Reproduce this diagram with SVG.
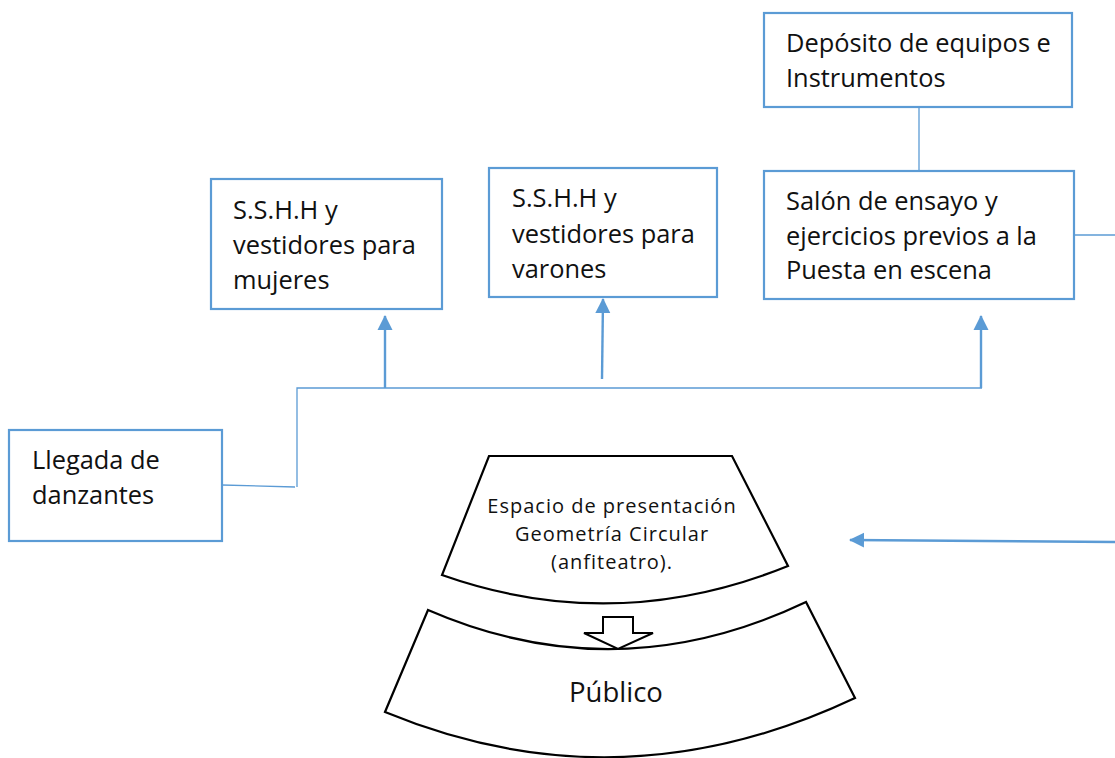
<svg xmlns="http://www.w3.org/2000/svg" width="1115" height="758" viewBox="0 0 1115 758">
<style>
.box{fill:#fff;stroke:#5B9BD5;stroke-width:2.2}
.t{font-family:"Open Sans","Liberation Sans",sans-serif;font-size:25.4px;fill:#111}
.ts{font-family:"Open Sans","Liberation Sans",sans-serif;font-size:20px;letter-spacing:1px;fill:#111}
.tp{font-family:"Open Sans","Liberation Sans",sans-serif;font-size:27.5px;fill:#111}
.thin{fill:none;stroke:#5B9BD5;stroke-width:1.3}
.arr{fill:none;stroke:#5B9BD5;stroke-width:2.4}
.shape{fill:#fff;stroke:#000;stroke-width:2.2}
</style>
<defs>
<marker id="ah" markerWidth="16" markerHeight="16" viewBox="0 0 16 16" refX="14" refY="8" orient="auto" markerUnits="userSpaceOnUse">
<path d="M0,0.5 L15,8 L0,15.5 Z" fill="#5B9BD5"/>
</marker>
</defs>
<g id="connectors">
<path class="thin" d="M222,485 L295,487"/>
<path class="thin" d="M297,487 L297,388 L982,388"/>
<path class="arr" d="M385,388 L385,316" marker-end="url(#ah)"/>
<path class="arr" d="M602,379 L603,299" marker-end="url(#ah)"/>
<path class="arr" d="M981,388 L981,316" marker-end="url(#ah)"/>
<path class="thin" d="M919,107 L919,171"/>
<path class="thin" d="M1037,235 L1115,235"/>
<path class="arr" d="M1115,542 L850,540" marker-end="url(#ah)"/>
</g>
<g id="node-deposito">
<rect class="box" x="764" y="13" width="308" height="94"/>
<text class="t" x="786" y="52">Depósito de equipos e</text>
<text class="t" x="786" y="87">Instrumentos</text>
</g>
<g id="node-salon">
<rect class="box" x="764" y="171" width="310" height="128"/>
<text class="t" x="786" y="210">Salón de ensayo y</text>
<text class="t" x="786" y="245">ejercicios previos a la</text>
<text class="t" x="786" y="279">Puesta en escena</text>
</g>
<g id="node-mujeres">
<rect class="box" x="211" y="179" width="231" height="130"/>
<text class="t" x="233" y="219">S.S.H.H y</text>
<text class="t" x="233" y="254">vestidores para</text>
<text class="t" x="233" y="289">mujeres</text>
</g>
<g id="node-varones">
<rect class="box" x="489" y="168" width="228" height="129"/>
<text class="t" x="512" y="207">S.S.H.H y</text>
<text class="t" x="512" y="243">vestidores para</text>
<text class="t" x="512" y="278">varones</text>
</g>
<g id="node-llegada">
<rect class="box" x="9" y="430" width="213" height="111"/>
<text class="t" x="32" y="469">Llegada de</text>
<text class="t" x="32" y="504">danzantes</text>
</g>
<g id="node-espacio">
<path class="shape" d="M489,456 L732,456 L788,566 Q615,636 442,575 Z"/>
<text class="ts" x="612" y="513" text-anchor="middle">Espacio de presentación</text>
<text class="ts" x="612" y="541" text-anchor="middle">Geometría Circular</text>
<text class="ts" x="612" y="569" text-anchor="middle">(anfiteatro).</text>
</g>
<g id="node-publico">
<path class="shape" d="M428,610 Q617,692 806,602 L855,698 Q620,809 385,712 Z"/>
<text class="tp" x="616" y="702" text-anchor="middle">Público</text>
</g>
<g id="flow-arrow">
<path d="M603,617 L633,617 L633,633 L653,633 L618,649 L584,633 L603,633 Z" fill="#fff" stroke="#000" stroke-width="2"/>
</g>
</svg>
